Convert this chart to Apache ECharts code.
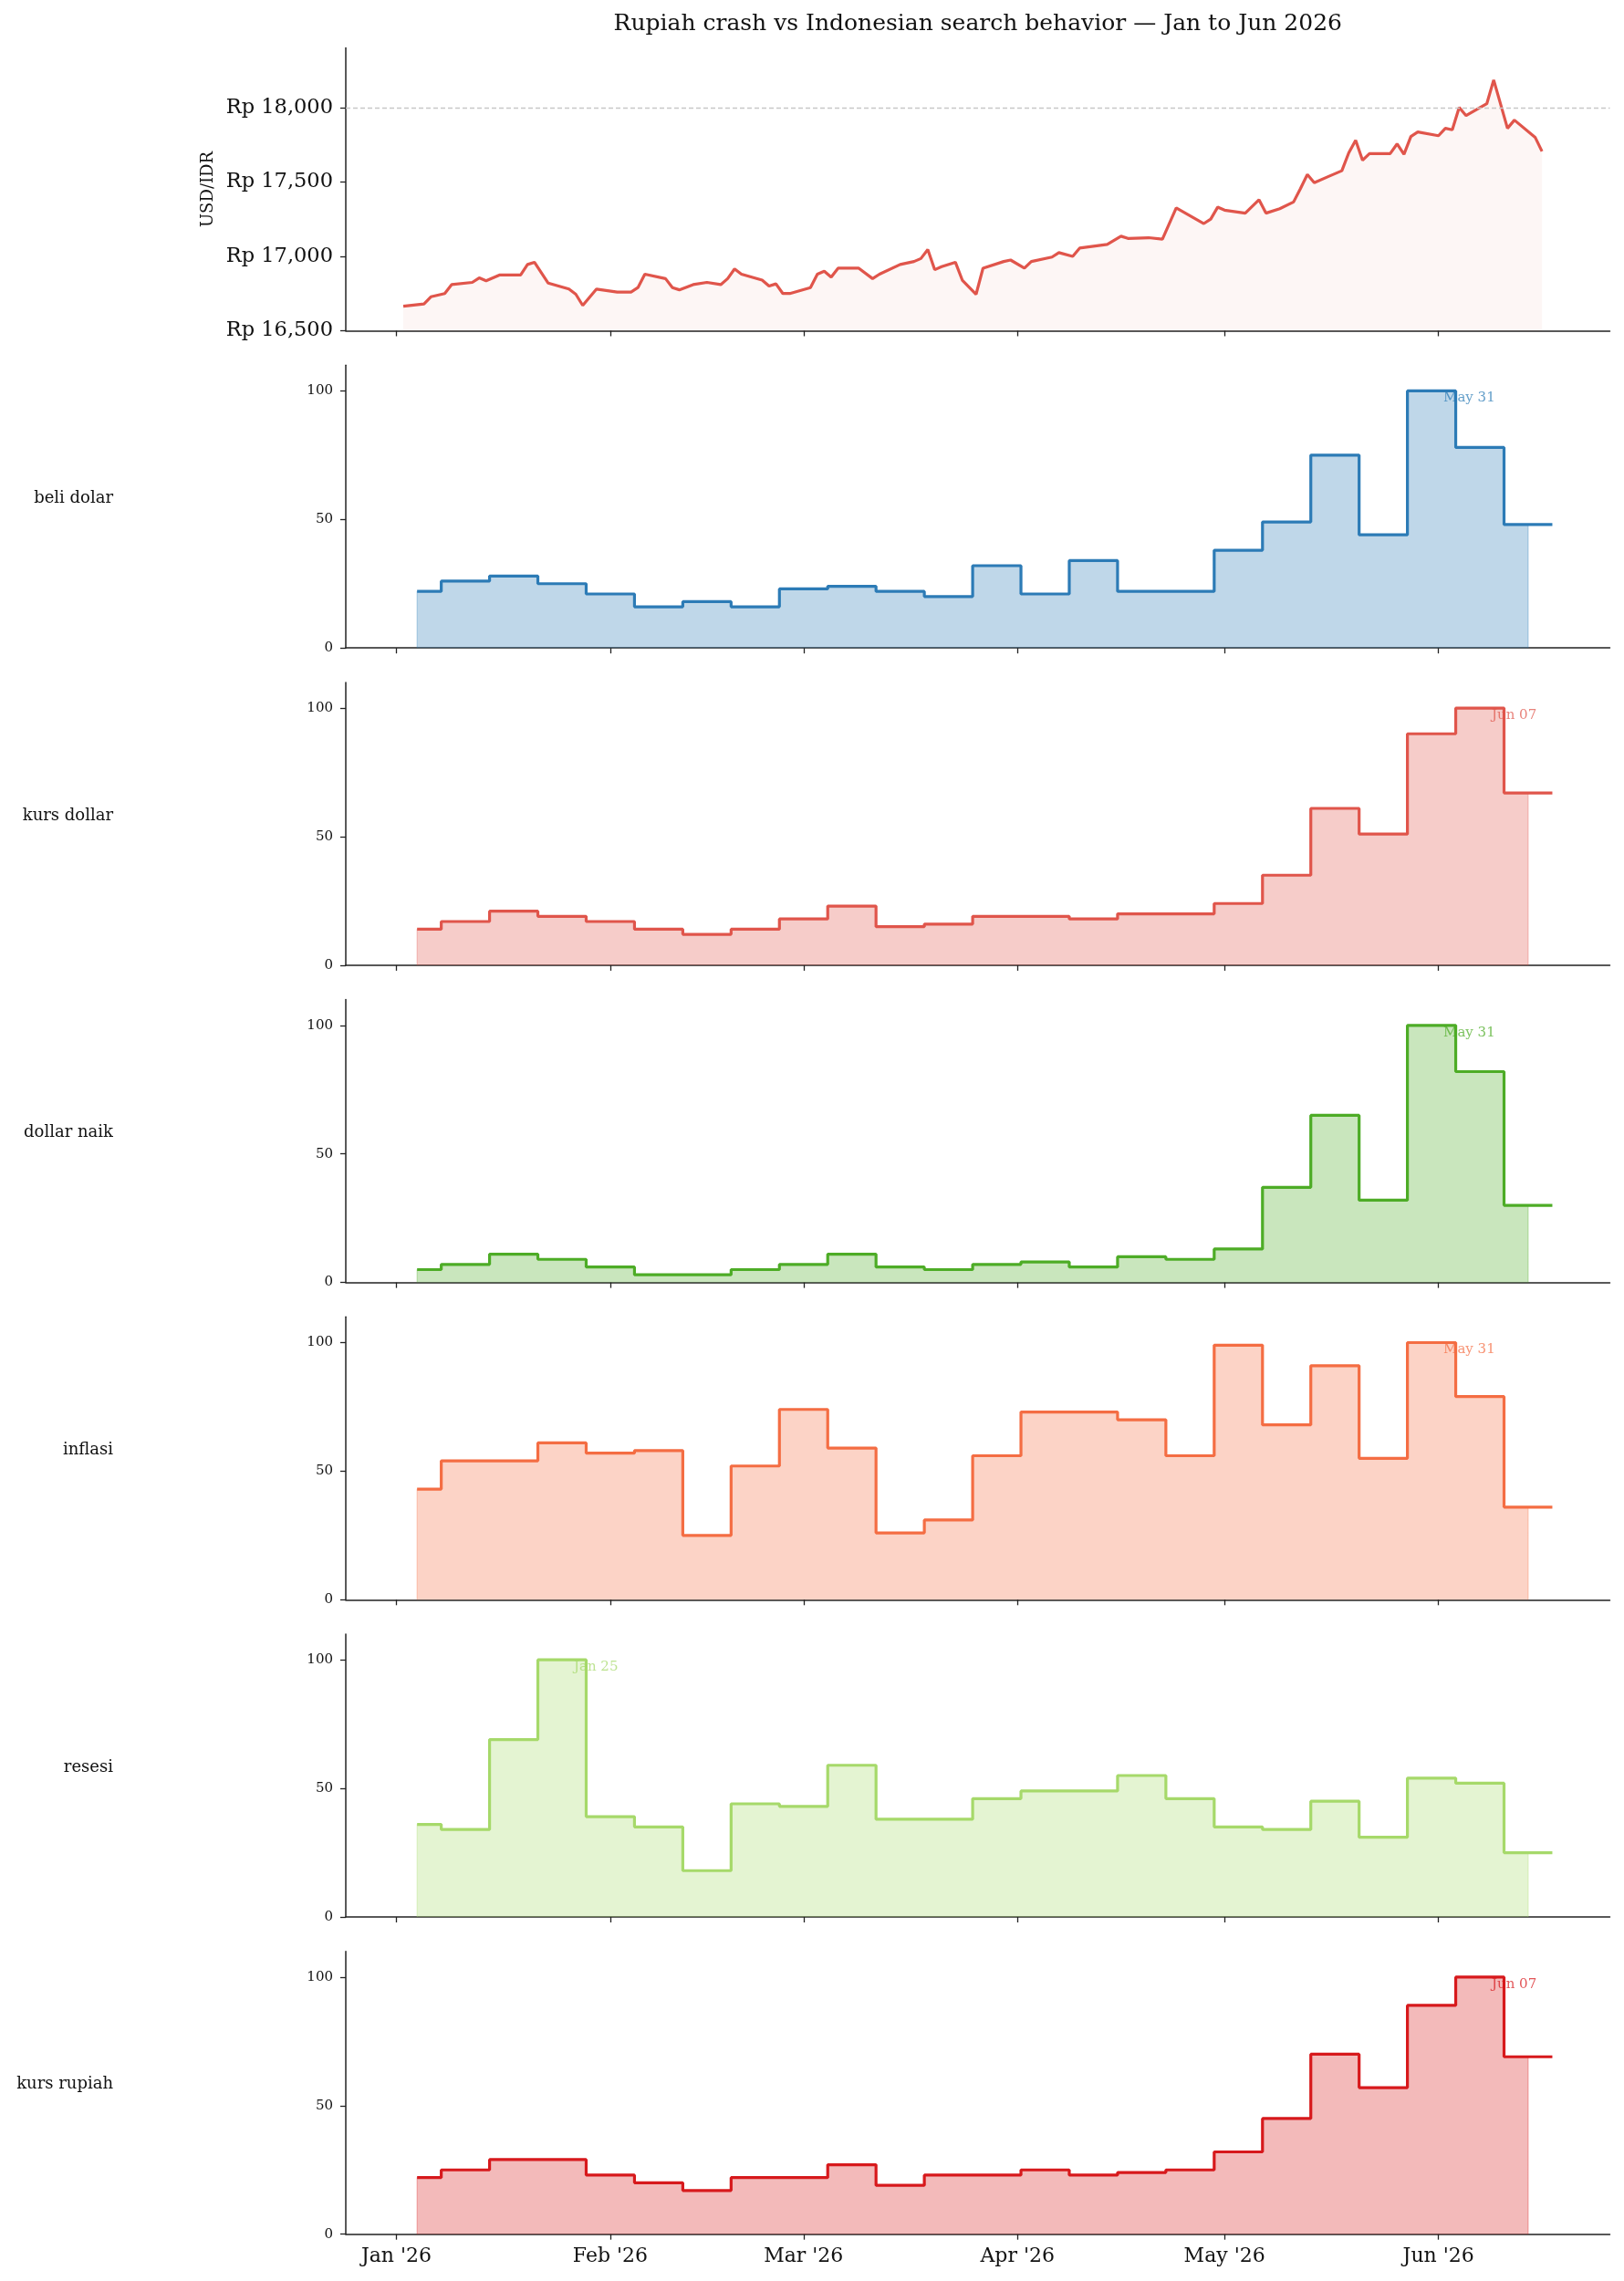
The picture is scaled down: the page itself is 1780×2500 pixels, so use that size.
<!DOCTYPE html>
<html>
<head>
<meta charset="utf-8">
<title>Rupiah crash vs Indonesian search behavior</title>
<script src="https://cdn.jsdelivr.net/npm/echarts@6/dist/echarts.min.js"></script>
<style>
  html, body { margin: 0; padding: 0; background: #fff; }
  #chart { width: 1780px; height: 2500px; }
</style>
</head>
<body>
<div id="chart"></div>
<script>
// USD/IDR exchange rate
var fxDates = [
  '2026-01-02', '2026-01-05', '2026-01-06', '2026-01-08', '2026-01-09', '2026-01-12', '2026-01-13', '2026-01-14',
  '2026-01-16', '2026-01-19', '2026-01-20', '2026-01-21', '2026-01-23', '2026-01-26', '2026-01-27', '2026-01-28',
  '2026-01-30', '2026-02-02', '2026-02-04', '2026-02-05', '2026-02-06', '2026-02-09', '2026-02-10', '2026-02-11',
  '2026-02-13', '2026-02-15', '2026-02-17', '2026-02-18', '2026-02-19', '2026-02-20', '2026-02-23', '2026-02-24',
  '2026-02-25', '2026-02-26', '2026-02-27', '2026-03-02', '2026-03-03', '2026-03-04', '2026-03-05', '2026-03-06',
  '2026-03-09', '2026-03-11', '2026-03-12', '2026-03-15', '2026-03-17', '2026-03-18', '2026-03-19', '2026-03-20',
  '2026-03-21', '2026-03-23', '2026-03-24', '2026-03-26', '2026-03-27', '2026-03-30', '2026-03-31', '2026-04-02',
  '2026-04-03', '2026-04-06', '2026-04-07', '2026-04-09', '2026-04-10', '2026-04-14', '2026-04-16', '2026-04-17',
  '2026-04-20', '2026-04-22', '2026-04-24', '2026-04-28', '2026-04-29', '2026-04-30', '2026-05-01', '2026-05-04',
  '2026-05-06', '2026-05-07', '2026-05-09', '2026-05-11', '2026-05-12', '2026-05-13', '2026-05-14', '2026-05-16',
  '2026-05-18', '2026-05-19', '2026-05-20', '2026-05-21', '2026-05-22', '2026-05-25', '2026-05-26', '2026-05-27',
  '2026-05-28', '2026-05-29', '2026-06-01', '2026-06-02', '2026-06-03', '2026-06-04', '2026-06-05', '2026-06-08',
  '2026-06-09', '2026-06-11', '2026-06-12', '2026-06-15', '2026-06-16'
];
var fxValues = [
  16665, 16680, 16728, 16750, 16810, 16825, 16855, 16835,
  16875, 16875, 16945, 16960, 16820, 16780, 16745, 16670,
  16780, 16760, 16760, 16790, 16880, 16850, 16790, 16775,
  16810, 16825, 16810, 16850, 16915, 16880, 16840, 16800,
  16815, 16750, 16750, 16790, 16880, 16900, 16860, 16920,
  16920, 16850, 16880, 16945, 16965, 16985, 17045, 16910,
  16930, 16960, 16840, 16745, 16920, 16965, 16975, 16920,
  16965, 16995, 17025, 17000, 17055, 17080, 17135, 17120,
  17125, 17115, 17325, 17220, 17250, 17330, 17310, 17290,
  17380, 17290, 17320, 17365, 17455, 17550, 17495, 17535,
  17575, 17695, 17780, 17645, 17690, 17690, 17755, 17685,
  17805, 17835, 17810, 17860, 17850, 18000, 17945, 18025,
  18185, 17860, 17915, 17800, 17705
];
var fxTicks = [16500, 17000, 17500, 18000];
var fxRefLine = 18000;

// Google Trends, weekly (weeks starting Sunday), 0-100
var weeks = [
  '2026-01-04', '2026-01-11', '2026-01-18', '2026-01-25', '2026-02-01', '2026-02-08', '2026-02-15', '2026-02-22',
  '2026-03-01', '2026-03-08', '2026-03-15', '2026-03-22', '2026-03-29', '2026-04-05', '2026-04-12', '2026-04-19',
  '2026-04-26', '2026-05-03', '2026-05-10', '2026-05-17', '2026-05-24', '2026-05-31', '2026-06-07', '2026-06-14'
];
var beliDolar  = [22, 26, 28, 25, 21, 16, 18, 16, 23, 24, 22, 20, 32, 21, 34, 22, 22, 38, 49, 75, 44, 100, 78, 48];
var kursDollar = [14, 17, 21, 19, 17, 14, 12, 14, 18, 23, 15, 16, 19, 19, 18, 20, 20, 24, 35, 61, 51, 90, 100, 67];
var dollarNaik = [5, 7, 11, 9, 6, 3, 3, 5, 7, 11, 6, 5, 7, 8, 6, 10, 9, 13, 37, 65, 32, 100, 82, 30];
var inflasi    = [43, 54, 54, 61, 57, 58, 25, 52, 74, 59, 26, 31, 56, 73, 73, 70, 56, 99, 68, 91, 55, 100, 79, 36];
var resesi     = [36, 34, 69, 100, 39, 35, 18, 44, 43, 59, 38, 38, 46, 49, 49, 55, 46, 35, 34, 45, 31, 54, 52, 25];
var kursRupiah = [22, 25, 29, 29, 23, 20, 17, 22, 22, 27, 19, 23, 23, 25, 23, 24, 25, 32, 45, 70, 57, 89, 100, 69];

var termNames  = ['beli dolar', 'kurs dollar', 'dollar naik', 'inflasi', 'resesi', 'kurs rupiah'];
var termSeries = [beliDolar, kursDollar, dollarNaik, inflasi, resesi, kursRupiah];
var termColors = ['#2c7bb6', '#e0554b', '#4dac26', '#f46d43', '#a6d96a', '#d7191c'];
var trendTicks = [0, 50, 100];

var monthTicks = ['2026-01-01', '2026-02-01', '2026-03-01', '2026-04-01', '2026-05-01', '2026-06-01'];
var monthNames = ['Jan', 'Feb', 'Mar', 'Apr', 'May', 'Jun', 'Jul', 'Aug', 'Sep', 'Oct', 'Nov', 'Dec'];

var fxColor = '#e0554b';
var FONT = '"DejaVu Serif", "Liberation Serif", serif';
var DAY = 86400000;

function toTime(s) {
  var p = s.split('-');
  return new Date(+p[0], +p[1] - 1, +p[2]).getTime();
}
function hexAlpha(hex, a) {
  var n = parseInt(hex.slice(1), 16);
  return 'rgba(' + (n >> 16) + ',' + ((n >> 8) & 255) + ',' + (n & 255) + ',' + a + ')';
}
function pad2(n) { return (n < 10 ? '0' : '') + n; }
function monthLabel(v) {
  var d = new Date(v);
  return monthNames[d.getMonth()] + " '" + String(d.getFullYear()).slice(2);
}
function rupiah(v) {
  return 'Rp ' + String(v).replace(/\B(?=(\d{3})+(?!\d))/g, ',');
}

// layout
var LEFT = 379, PLOT_W = 1385.5, TOP0 = 52.5, STEP = 347.7, H = 310;
// x range: Jan 1 minus ~7.3 days to Jan 1 plus ~175.8 days
var xMin = new Date(2025, 11, 24, 16).getTime();
var xMax = new Date(2026, 5, 25, 20).getTime();
var tickTimes = monthTicks.map(toTime);
var LINE_W = 3.2;

var grids = [], xAxes = [], yAxes = [], series = [], graphics = [];

for (var i = 0; i < 7; i++) {
  grids.push({ left: LEFT, top: TOP0 + STEP * i, width: PLOT_W, height: H });
  // timestamps on a value axis so ticks sit exactly on month starts
  xAxes.push({
    type: 'value', gridIndex: i, min: xMin, max: xMax,
    axisLine: { show: true, onZero: false, lineStyle: { color: '#222', width: 1.5 } },
    axisTick: { show: true, length: 6, customValues: tickTimes, lineStyle: { color: '#222', width: 1.3 } },
    axisLabel: {
      show: i === 6, customValues: tickTimes, margin: 14,
      fontFamily: FONT, fontSize: 22, color: '#111', formatter: monthLabel
    },
    splitLine: { show: false }
  });
  if (i === 0) {
    yAxes.push({
      type: 'value', gridIndex: 0, min: 16500, max: 18400,
      axisLine: { show: true, lineStyle: { color: '#222', width: 1.5 } },
      axisTick: { show: true, length: 6, customValues: fxTicks, lineStyle: { color: '#222', width: 1.3 } },
      axisLabel: { customValues: fxTicks, margin: 14, fontFamily: FONT, fontSize: 22.5, color: '#111', formatter: rupiah },
      splitLine: { show: false }
    });
  } else {
    yAxes.push({
      type: 'value', gridIndex: i, min: 0, max: 110,
      axisLine: { show: true, lineStyle: { color: '#222', width: 1.5 } },
      axisTick: { show: true, length: 6, customValues: trendTicks, lineStyle: { color: '#222', width: 1.3 } },
      axisLabel: { customValues: trendTicks, margin: 14, fontFamily: FONT, fontSize: 15, color: '#111' },
      splitLine: { show: false }
    });
  }
}

// top panel: exchange rate
series.push({
  type: 'line', xAxisIndex: 0, yAxisIndex: 0,
  data: fxDates.map(function (d, k) { return [toTime(d), fxValues[k]]; }),
  showSymbol: false, symbol: 'none',
  lineStyle: { color: fxColor, width: LINE_W },
  areaStyle: { color: hexAlpha(fxColor, 0.08), origin: 'start' },
  markLine: {
    silent: true, symbol: 'none', label: { show: false },
    lineStyle: { color: '#c8c8c8', width: 1.3, type: [5, 3] },
    data: [{ yAxis: fxRefLine }]
  },
  z: 3
});

// search-term panels
termSeries.forEach(function (vals, k) {
  var ax = k + 1, col = termColors[k];
  var pts = weeks.map(function (w, j) { return [toTime(w), vals[j]]; });
  var first = pts[0], last = pts[pts.length - 1];
  // closing the area down to 0 at both ends gives the fill its thin side edges
  var fillPts = [[first[0], 0]].concat(pts, [[last[0], 0]]);
  var linePts = pts.concat([[last[0] + 3.5 * DAY, last[1]]]);

  series.push({
    type: 'line', xAxisIndex: ax, yAxisIndex: ax, step: 'middle',
    data: fillPts, showSymbol: false, symbol: 'none',
    lineStyle: { width: 1.2, color: hexAlpha(col, 0.3) },
    areaStyle: { color: hexAlpha(col, 0.3), opacity: 1, origin: 'start' },
    z: 2
  });
  series.push({
    type: 'line', xAxisIndex: ax, yAxisIndex: ax, step: 'middle',
    data: linePts, showSymbol: false, symbol: 'none',
    lineStyle: { width: LINE_W, color: col },
    z: 3
  });

  var peak = 0;
  for (var j = 1; j < vals.length; j++) if (vals[j] > vals[peak]) peak = j;
  var pd = new Date(toTime(weeks[peak]));
  series.push({
    type: 'scatter', xAxisIndex: ax, yAxisIndex: ax, silent: true,
    symbolSize: 0.1, itemStyle: { color: 'rgba(0,0,0,0)' },
    data: [[toTime(weeks[peak]), vals[peak]]],
    label: {
      show: true, position: [13, 8], align: 'left', verticalAlign: 'middle',
      formatter: monthNames[pd.getMonth()] + ' ' + pad2(pd.getDate()),
      fontFamily: FONT, fontSize: 15, color: hexAlpha(col, 0.92)
    },
    z: 5
  });

  graphics.push({
    type: 'text', x: 124, y: TOP0 + STEP * ax + H / 2 - 9,
    style: { text: termNames[k], align: 'right', verticalAlign: 'middle', fontFamily: FONT, fontSize: 18, fill: '#111' }
  });
});

graphics.push({
  type: 'text', x: LEFT + PLOT_W / 2, y: 26,
  style: { text: 'Rupiah crash vs Indonesian search behavior \u2014 Jan to Jun 2026', align: 'center', verticalAlign: 'middle', fontFamily: FONT, fontSize: 25, fill: '#111' }
});
graphics.push({
  type: 'text', x: 228, y: TOP0 + H / 2, rotation: Math.PI / 2,
  style: { text: 'USD/IDR', align: 'center', verticalAlign: 'middle', fontFamily: FONT, fontSize: 18, fill: '#111' }
});

var chart = echarts.init(document.getElementById('chart'), null, { renderer: 'canvas' });
chart.setOption({
  backgroundColor: '#ffffff',
  animation: false,
  grid: grids,
  xAxis: xAxes,
  yAxis: yAxes,
  series: series,
  graphic: graphics
});
</script>
</body>
</html>
